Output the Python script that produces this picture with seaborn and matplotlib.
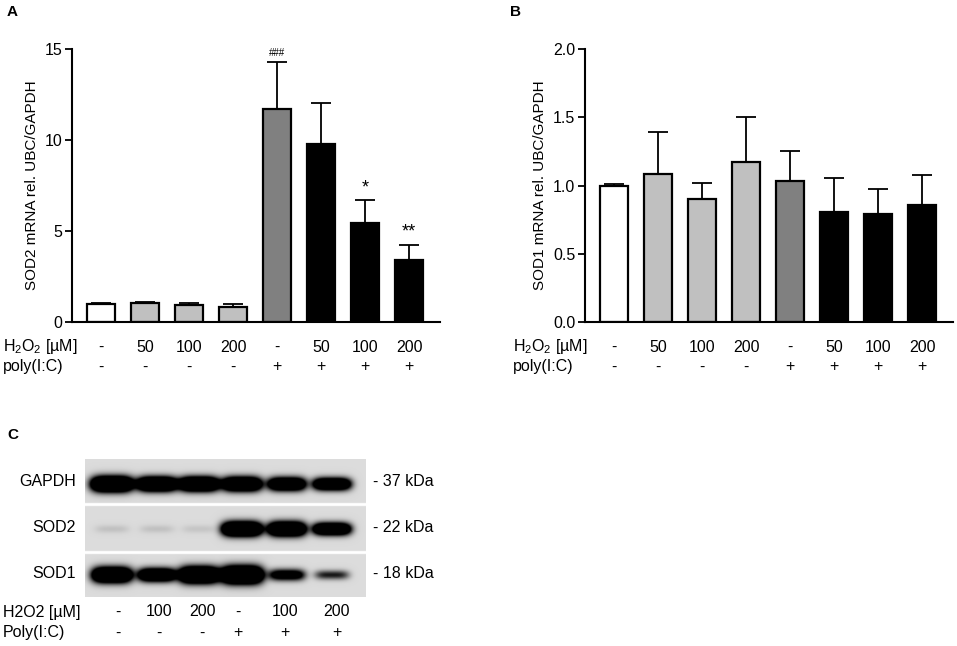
"""
SOD2 / SOD1 mRNA bar charts (A, B) and western blot panel (C)
"""
import numpy as np
import pandas as pd
import matplotlib
matplotlib.use("Agg")
import matplotlib.pyplot as plt
import matplotlib.transforms as mtransforms
import seaborn as sns

# Data
groups = ["ctrl", "H50", "H100", "H200", "pIC", "pIC+H50", "pIC+H100", "pIC+H200"]
h2o2_labels = ["-", "50", "100", "200", "-", "50", "100", "200"]
pic_labels = ["-", "-", "-", "-", "+", "+", "+", "+"]
bar_colors = ["#ffffff", "#c0c0c0", "#c0c0c0", "#c0c0c0",
              "#808080", "#000000", "#000000", "#000000"]

sod2_mean = [1.0, 1.02, 0.94, 0.85, 11.68, 9.78, 5.44, 3.42]
sod2_sem = [0.02, 0.08, 0.10, 0.16, 2.60, 2.25, 1.24, 0.83]
sod2_marks = ["", "", "", "", "###", "", "*", "**"]

sod1_mean = [1.0, 1.084, 0.90, 1.17, 1.03, 0.803, 0.794, 0.855]
sod1_sem = [0.01, 0.31, 0.12, 0.33, 0.225, 0.25, 0.18, 0.222]

# Western blot (C)
blot_proteins = ["GAPDH", "SOD2", "SOD1"]
blot_kda = ["- 37 kDa", "- 22 kDa", "- 18 kDa"]
blot_h2o2 = ["-", "100", "200", "-", "100", "200"]
blot_pic = ["-", "-", "-", "+", "+", "+"]
gapdh_signal = [3.0, 2.8, 2.8, 2.6, 2.4, 2.4]
sod2_signal = [0.12, 0.12, 0.10, 3.0, 2.8, 2.5]
sod1_signal = [2.8, 2.4, 3.0, 3.2, 1.6, 0.9]

W, H = 957, 646

sns.set_style("ticks")
plt.rcParams["font.family"] = ["Liberation Sans", "DejaVu Sans"]
plt.rcParams["mathtext.fontset"] = "custom"
plt.rcParams["mathtext.rm"] = "Liberation Sans"
plt.rcParams["mathtext.default"] = "regular"
for key in ["text.color", "axes.labelcolor", "xtick.color", "ytick.color",
            "axes.edgecolor"]:
    plt.rcParams[key] = "black"


def fx(px):
    return px / W


def fy(py):
    return 1 - py / H


def bar_panel(fig, left_px, mean, sem, ylim, yticks, ylabel, marks=None):
    ax = fig.add_axes([fx(left_px), fy(322), 368 / W, 273 / H])
    df = pd.DataFrame({"group": groups, "value": mean})
    sns.barplot(data=df, x="group", y="value", hue="group", order=groups,
                hue_order=groups, palette=bar_colors, width=0.64,
                edgecolor="black", linewidth=1.6, legend=False, ax=ax,
                zorder=2)
    ax.errorbar(np.arange(len(groups)), mean, yerr=[np.zeros(len(sem)), sem],
                fmt="none", ecolor="black", elinewidth=1.3, capsize=7,
                capthick=1.3, zorder=1)
    ax.set_xlim(-0.66, 7.7)
    ax.set_ylim(*ylim)
    ax.set_yticks(yticks)
    ax.set_xticks([])
    ax.set_xlabel("")
    ax.set_ylabel(ylabel, fontsize=11, labelpad=4)
    ax.tick_params(axis="y", direction="out", length=5, width=1.3,
                   labelsize=11.5, pad=2)
    sns.despine(ax=ax)
    for s in ["left", "bottom"]:
        ax.spines[s].set_linewidth(1.5)

    if marks is not None:
        for i, m in enumerate(marks):
            if not m:
                continue
            size = 7 if m.startswith("#") else 13
            ax.annotate(m, (i, mean[i] + sem[i]), xytext=(0, 3),
                        textcoords="offset points", ha="center",
                        va="bottom", fontsize=size)

    tr = mtransforms.blended_transform_factory(ax.transData, fig.transFigure)
    for i in range(len(groups)):
        ax.text(i, fy(347), h2o2_labels[i], transform=tr, ha="center",
                va="center", fontsize=11.5)
        ax.text(i, fy(367), pic_labels[i], transform=tr, ha="center",
                va="center", fontsize=11.5)
    return ax


fig = plt.figure(figsize=(W / 100, H / 100), dpi=100)

bar_panel(fig, 72, sod2_mean, sod2_sem, (0, 15), [0, 5, 10, 15],
          "SOD2 mRNA rel. UBC/GAPDH", sod2_marks)
ax_b = bar_panel(fig, 585, sod1_mean, sod1_sem, (0, 2.0),
                 [0.0, 0.5, 1.0, 1.5, 2.0], "SOD1 mRNA rel. UBC/GAPDH")
ax_b.set_yticklabels(["0.0", "0.5", "1.0", "1.5", "2.0"])

# row labels
fig.text(fx(3), fy(347), r"H$_2$O$_2$ [µM]", ha="left", va="center", fontsize=11.5)
fig.text(fx(3), fy(367), "poly(I:C)", ha="left", va="center", fontsize=11.5)
fig.text(fx(513), fy(347), r"H$_2$O$_2$ [µM]", ha="left", va="center", fontsize=11.5)
fig.text(fx(513), fy(367), "poly(I:C)", ha="left", va="center", fontsize=11.5)

# panel letters
fig.text(fx(7), fy(12), "A", fontweight="bold", fontsize=11, va="center")
fig.text(fx(510), fy(12), "B", fontweight="bold", fontsize=11, va="center")
fig.text(fx(7), fy(435), "C", fontweight="bold", fontsize=11, va="center")

# --- blot image ---
x0, x1, y0, y1 = 85, 366, 459, 597
res = 4
xs = np.linspace(x0, x1, (x1 - x0) * res)
ys = np.linspace(y0, y1, (y1 - y0) * res)
XX, YY = np.meshgrid(xs, ys)
img = np.zeros_like(XX)

lane_x = [112, 157, 199, 242, 287, 332]
strips = [(459, 503), (506, 551), (554, 597)]
band_y = [484, 529, 575]
band_hh = [[7.5, 7, 7, 7, 6.5, 6],
           [4, 4, 4, 7, 7, 6],
           [7.5, 6.5, 8, 8.5, 5.5, 4.5]]
band_hw = [[21, 20, 20, 20, 19, 19],
           [17, 17, 17, 20, 19, 19],
           [20, 19, 20, 21, 18, 17]]
signals = [gapdh_signal, sod2_signal, sod1_signal]
bg = 0.14
for r, (sy0, sy1) in enumerate(strips):
    inside = (YY >= sy0) & (YY <= sy1)
    dark = np.zeros_like(XX)
    for j, lx in enumerate(lane_x):
        dx = (XX - lx) / band_hw[r][j]
        dy = (YY - band_y[r]) / band_hh[r][j]
        dark += signals[r][j] * np.exp(-dx ** 4 - dy ** 2)
    val = bg + (1 - bg) * np.clip(dark, 0, 1)
    img[inside] = val[inside]

ax_c = fig.add_axes([fx(x0), fy(y1), (x1 - x0) / W, (y1 - y0) / H])
ax_c.imshow(img, cmap="gray_r", vmin=0, vmax=1, extent=(x0, x1, y1, y0),
            aspect="auto", interpolation="bilinear")
ax_c.set_axis_off()

label_y = [481, 528, 574]
for r in range(3):
    fig.text(fx(76), fy(label_y[r]), blot_proteins[r], ha="right",
             va="center", fontsize=11.5)
    fig.text(fx(373), fy(label_y[r]), blot_kda[r], ha="left",
             va="center", fontsize=11.5)

fig.text(fx(3), fy(612), "H2O2 [µM]", ha="left", va="center", fontsize=11.5)
fig.text(fx(3), fy(633), "Poly(I:C)", ha="left", va="center", fontsize=11.5)
lab_x = [118, 159, 202, 238, 285, 337]
for j in range(6):
    fig.text(fx(lab_x[j]), fy(612), blot_h2o2[j], ha="center", va="center",
             fontsize=11.5)
    fig.text(fx(lab_x[j]), fy(633), blot_pic[j], ha="center", va="center",
             fontsize=11.5)

fig.savefig("out.png", dpi=100)
